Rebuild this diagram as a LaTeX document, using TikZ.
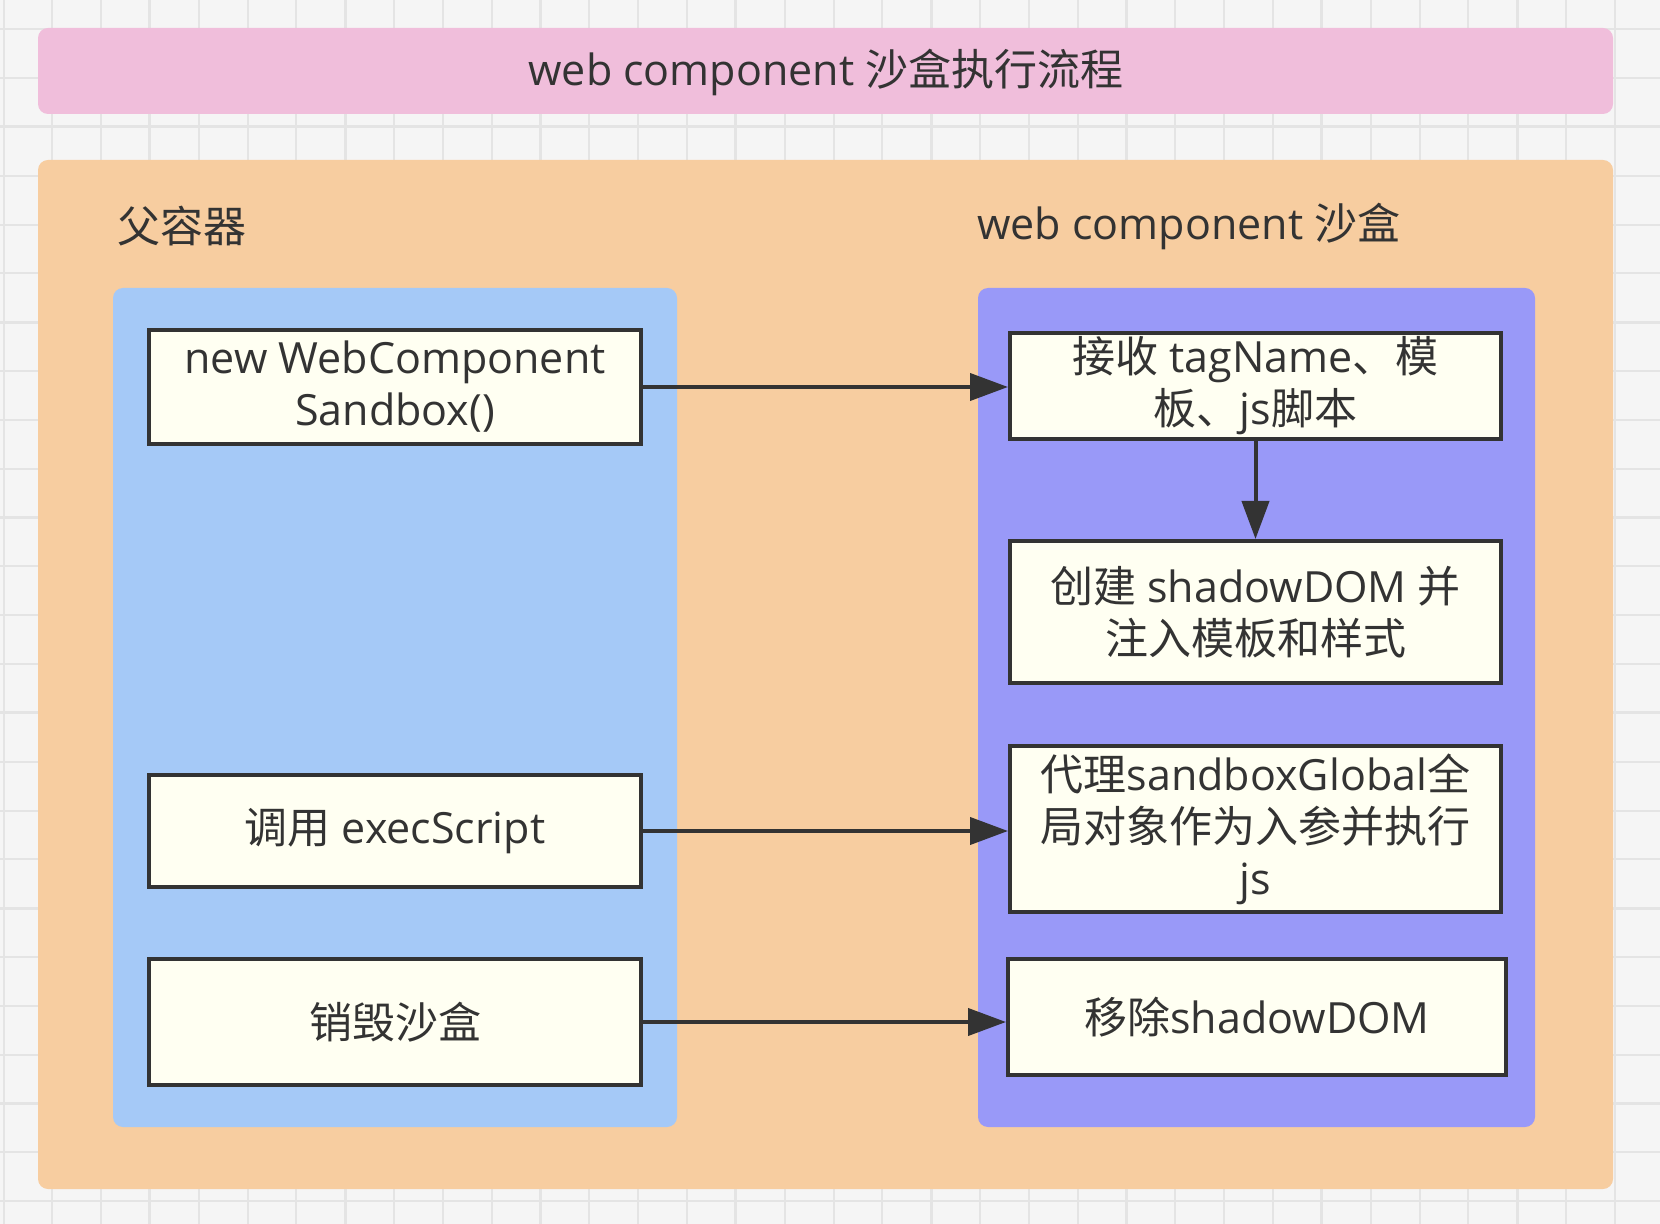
\documentclass[tikz,border=0pt]{standalone}
\usepackage{fontspec}
\setmainfont{Open Sans}
\newfontfamily\cjk{Noto Sans CJK SC}
\usepackage{xcolor}
\usetikzlibrary{arrows.meta}
\definecolor{gridbg}{RGB}{245,245,245}
\definecolor{gridline}{RGB}{228,228,228}
\definecolor{titlepink}{RGB}{240,190,219}
\definecolor{outerorange}{RGB}{247,205,160}
\definecolor{leftblue}{RGB}{165,201,247}
\definecolor{rightpurple}{RGB}{153,153,248}
\definecolor{boxfill}{RGB}{255,255,242}
\definecolor{ink}{RGB}{51,51,51}
\tikzset{
	panel/.style={fill=#1, draw=none, rounded corners=5pt},
	stepbox/.style={draw=ink, line width=2pt, fill=boxfill, text=ink,
			align=center, inner sep=0pt,
			font=\fontsize{21.5pt}{26pt}\selectfont},
	label/.style={text=ink, inner sep=0pt,
			font=\fontsize{21.5pt}{26pt}\selectfont},
	flow/.style={draw=ink, line width=2pt,
			-{Triangle[length=19pt, width=13.5pt]}}
}

\begin{document}
\begin{tikzpicture}[x=0.5pt, y=-0.5pt]
		\useasboundingbox (0,0) rectangle (1660,1224);

		% Grid paper
		\fill[gridbg] (0,0) rectangle (1660,1224);
		\foreach \i in {0,...,33} {
				\pgfmathsetmacro{\gw}{mod(\i,4)==3 ? 1.5 : 1}
				\draw[gridline, line width=\gw pt] (3.5+48.83*\i,0) -- (3.5+48.83*\i,1224);
			}
		\foreach \j in {0,...,24} {
				\pgfmathsetmacro{\gw}{mod(\j,4)==2 ? 1.5 : 1}
				\draw[gridline, line width=\gw pt] (0,29.3+48.83*\j) -- (1660,29.3+48.83*\j);
			}

		% Title bar
		\fill[panel=titlepink] (38,28) rectangle (1613,114);
		\node[label] (title) at (826,72) {web component {\cjk 沙盒执行流程}};

		% Outer container and the two lanes
		\fill[panel=outerorange] (38,160) rectangle (1613,1189);
		\fill[panel=leftblue] (113,288) rectangle (677,1127);
		\fill[panel=rightpurple] (978,288) rectangle (1535,1127);
		\node[label, anchor=west] (parent) at (117,226) {\cjk 父容器};
		\node[label, anchor=west] (sandbox) at (977,226) {web component {\cjk 沙盒}};

		% Parent side
		\node[stepbox, minimum width=246pt, minimum height=57pt] (create) at (395,387)
		{new WebComponent\\Sandbox()};
		\node[stepbox, minimum width=246pt, minimum height=56pt] (exec) at (395,831)
		{{\cjk 调用} execScript};
		\node[stepbox, minimum width=246pt, minimum height=63pt] (destroy) at (395,1022)
		{\cjk 销毁沙盒};

		% Sandbox side
		\node[stepbox, minimum width=245.5pt, minimum height=53pt] (receive) at (1255.5,386)
		{{\cjk 接收} tagName{\cjk 、模}\\{\cjk 板、}js{\cjk 脚本}};
		\node[stepbox, minimum width=245.5pt, minimum height=71pt] (shadow) at (1255.5,612)
		{{\cjk 创建} shadowDOM {\cjk 并}\\{\cjk 注入模板和样式}};
		\node[stepbox, minimum width=245.5pt, minimum height=83pt] (proxy) at (1255.5,829)
		{{\cjk 代理}sandboxGlobal{\cjk 全}\\{\cjk 局对象作为入参并执行}\\js};
		\node[stepbox, minimum width=249pt, minimum height=58pt] (remove) at (1257,1017)
		{{\cjk 移除}shadowDOM};

		% Connectors
		\draw[flow] (create.east) -- (create.east -| receive.west);
		\draw[flow] (receive.south) -- (receive.south |- shadow.north);
		\draw[flow] (exec.east) -- (exec.east -| proxy.west);
		\draw[flow] (destroy.east) -- (destroy.east -| remove.west);
	\end{tikzpicture}
\end{document}
